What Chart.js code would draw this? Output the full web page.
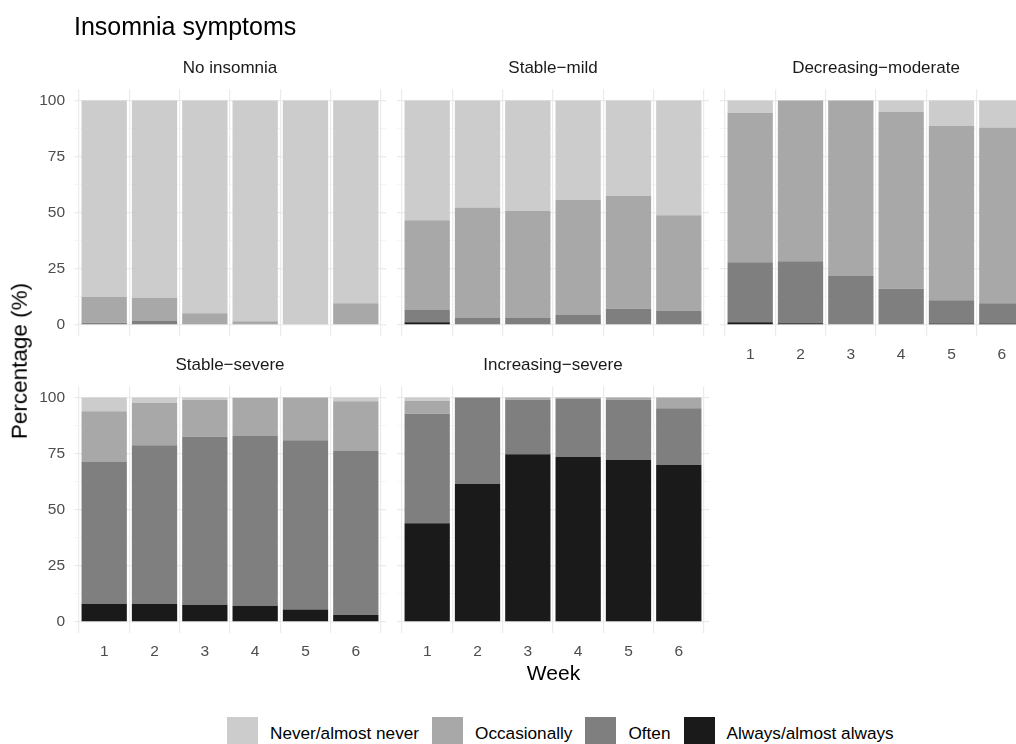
<!DOCTYPE html>
<html>
<head>
<meta charset="utf-8">
<title>Insomnia symptoms</title>
<script src="https://cdn.jsdelivr.net/npm/chart.js@4"></script>
<style>
  html, body { margin: 0; padding: 0; width: 1016px; height: 744px; overflow: hidden; background: #ffffff; }
  body { position: relative; font-family: "Liberation Sans", Arial, Helvetica, sans-serif; }
  .txt { position: absolute; white-space: nowrap; line-height: 1; }
  canvas.facet { position: absolute; }
  #legend { position: absolute; left: 227px; top: 717px; height: 30px; display: flex; align-items: center; font-size: 17.2px; color: #000; }
  #legend .key { width: 31px; height: 30px; flex: none; }
  #legend .lab { margin-left: 12px; margin-right: 13px; position: relative; top: 1px; }
</style>
</head>
<body>
<script>
// ---- data -------------------------------------------------------------
const weeks = [1, 2, 3, 4, 5, 6];
const levels = ['Never/almost never', 'Occasionally', 'Often', 'Always/almost always'];
const facetNames = ['No insomnia', 'Stable\u2212mild', 'Decreasing\u2212moderate', 'Stable\u2212severe', 'Increasing\u2212severe'];
const percentTicks = [0, 25, 50, 75, 100];
const minorPercentTicks = [12.5, 37.5, 62.5, 87.5];

// Share of participants (%) per week, one array per trajectory class and answer
const noInsomniaNever        = [87.5, 88.0, 94.9, 98.4, 100.0, 90.4];
const noInsomniaOccasionally = [11.6, 10.3,  5.1,  1.6,   0.0,  9.6];
const noInsomniaOften        = [ 0.9,  1.7,  0.0,  0.0,   0.0,  0.0];
const noInsomniaAlways       = [ 0.0,  0.0,  0.0,  0.0,   0.0,  0.0];

const stableMildNever        = [53.4, 47.7, 49.2, 44.3, 42.5, 51.2];
const stableMildOccasionally = [39.8, 49.3, 47.8, 51.3, 50.4, 42.6];
const stableMildOften        = [ 5.7,  3.0,  3.0,  4.4,  7.1,  6.2];
const stableMildAlways       = [ 1.1,  0.0,  0.0,  0.0,  0.0,  0.0];

const decModerateNever        = [ 5.5,  0.0,  0.0,  5.1, 11.3, 12.0];
const decModerateOccasionally = [66.6, 71.7, 78.2, 78.8, 77.8, 78.4];
const decModerateOften        = [26.8, 27.6, 21.8, 16.1, 10.3,  9.0];
const decModerateAlways       = [ 1.1,  0.7,  0.0,  0.0,  0.6,  0.6];

const stableSevereNever        = [ 6.1,  2.4,  1.0,  0.2,  0.0,  1.7];
const stableSevereOccasionally = [22.4, 18.9, 16.5, 17.0, 19.0, 21.9];
const stableSevereOften        = [63.5, 70.7, 74.9, 75.7, 75.5, 73.4];
const stableSevereAlways       = [ 8.0,  8.0,  7.6,  7.1,  5.5,  3.0];

const incSevereNever        = [ 1.4,  0.0,  0.0,  0.0,  0.0,  0.0];
const incSevereOccasionally = [ 5.8,  0.0,  1.0,  0.5,  1.0,  4.8];
const incSevereOften        = [48.9, 38.4, 24.3, 26.0, 26.7, 25.3];
const incSevereAlways       = [43.9, 61.6, 74.7, 73.5, 72.3, 69.9];

const facetSeries = [
  [noInsomniaNever, noInsomniaOccasionally, noInsomniaOften, noInsomniaAlways],
  [stableMildNever, stableMildOccasionally, stableMildOften, stableMildAlways],
  [decModerateNever, decModerateOccasionally, decModerateOften, decModerateAlways],
  [stableSevereNever, stableSevereOccasionally, stableSevereOften, stableSevereAlways],
  [incSevereNever, incSevereOccasionally, incSevereOften, incSevereAlways]
];

// ---- styling & layout --------------------------------------------------
const FONT = '"Liberation Sans", Arial, Helvetica, sans-serif';
const levelColors = ['#cccccc', '#a8a8a8', '#7f7f7f', '#1a1a1a'];
const PLOT_W = 312, PLOT_H = 253;     // panel (plot area) size
const AX_W = 44, AX_H = 36;           // room for tick labels
const PAD_T = 12, PAD_R = 12;

// panel grid: 3 columns, second row has two panels
const facetBoxes = [
  { left: 74,  top: 83,  xLabels: false, yLabels: true  },
  { left: 397, top: 83,  xLabels: false, yLabels: false },
  { left: 720, top: 83,  xLabels: true,  yLabels: false },
  { left: 74,  top: 380, xLabels: true,  yLabels: true  },
  { left: 397, top: 380, xLabels: true,  yLabels: false }
];

function addText(str, css) {
  const d = document.createElement('div');
  d.className = 'txt';
  d.textContent = str;
  Object.assign(d.style, css);
  document.body.appendChild(d);
  return d;
}

const yGridTicks = percentTicks.concat(minorPercentTicks).sort((a, b) => a - b);

facetBoxes.forEach((box, fi) => {
  const cv = document.createElement('canvas');
  cv.className = 'facet';
  cv.width = AX_W + PLOT_W + PAD_R;
  cv.height = PAD_T + PLOT_H + AX_H;
  cv.style.left = (box.left - AX_W) + 'px';
  cv.style.top = (box.top - PAD_T) + 'px';
  document.body.appendChild(cv);

  // bottom of the stack first: Always, Often, Occasionally, Never
  const datasets = [3, 2, 1, 0].map(li => ({
    label: levels[li],
    data: weeks.map((w, i) => ({ x: w, y: facetSeries[fi][li][i] })),
    backgroundColor: levelColors[li],
    borderWidth: 0,
    barPercentage: 0.9,
    categoryPercentage: 1.0,
    stack: 'answers'
  }));

  new Chart(cv, {
    type: 'bar',
    data: { datasets },
    options: {
      responsive: false,
      animation: false,
      devicePixelRatio: 1,
      layout: { padding: { top: PAD_T, right: PAD_R, left: 0, bottom: 0 } },
      plugins: { legend: { display: false }, tooltip: { enabled: false } },
      scales: {
        x: {
          type: 'linear', min: 0.4, max: 6.6, stacked: true, offset: false,
          afterBuildTicks: s => { s.ticks = weeks.map(v => ({ value: v })); },
          afterFit: s => { s.height = AX_H; },
          grid: { color: '#ebebeb', lineWidth: 1.2, drawTicks: false },
          border: { display: false },
          ticks: {
            display: box.xLabels, color: '#4d4d4d', padding: 9,
            font: { family: FONT, size: 15.5 },
            maxRotation: 0, autoSkip: false,
            callback: v => String(v)
          }
        },
        y: {
          type: 'linear', min: -5, max: 105, stacked: true,
          afterBuildTicks: s => { s.ticks = yGridTicks.map(v => ({ value: v })); },
          afterFit: s => { s.width = AX_W; },
          grid: {
            drawTicks: false,
            color: c => (c.tick && percentTicks.includes(c.tick.value)) ? '#ebebeb' : '#f3f3f3',
            lineWidth: c => (c.tick && percentTicks.includes(c.tick.value)) ? 1.2 : 0.8
          },
          border: { display: false },
          ticks: {
            color: '#4d4d4d', padding: 9,
            font: { family: FONT, size: 15.5 },
            autoSkip: false,
            callback: v => (box.yLabels && percentTicks.includes(v)) ? String(v) : ''
          }
        }
      }
    }
  });

  // facet strip label
  addText(facetNames[fi], {
    fontSize: '17px', color: '#1a1a1a',
    top: (box.top - 24.1) + 'px',
    left: (box.left + PLOT_W / 2) + 'px',
    transform: 'translateX(-50%)'
  });
});

// titles
addText('Insomnia symptoms', { fontSize: '25px', color: '#000', left: '74px', top: '14px' });
addText('Week', { fontSize: '21px', color: '#000', left: '553.5px', top: '661.5px', transform: 'translateX(-50%)' });
addText('Percentage (%)', {
  fontSize: '22.5px', color: '#000', left: '20px', top: '361px',
  transform: 'translate(-50%, -50%) rotate(-90deg)'
});

// legend, top-to-bottom stack order
const legend = document.createElement('div');
legend.id = 'legend';
levels.forEach((name, li) => {
  const k = document.createElement('span');
  k.className = 'key';
  k.style.background = levelColors[li];
  const t = document.createElement('span');
  t.className = 'lab';
  t.textContent = name;
  legend.appendChild(k);
  legend.appendChild(t);
});
document.body.appendChild(legend);
</script>
</body>
</html>
